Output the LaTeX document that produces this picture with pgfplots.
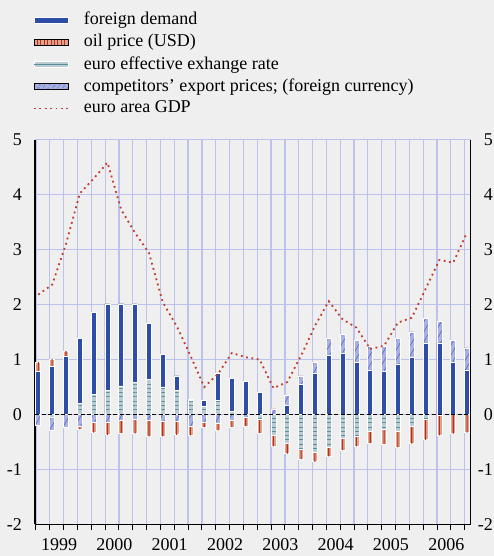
\documentclass[border=0pt]{standalone}
\usepackage{pgfplots}
\pgfplotsset{compat=1.18}
\usepackage{pgfplotstable}
\usepackage{fontspec}
\setmainfont{Liberation Serif}
\usetikzlibrary{patterns.meta}
\definecolor{bg}{HTML}{EFEFEF}
\definecolor{gridc}{HTML}{BCC2EB}
\definecolor{fd}{HTML}{2D4DA8}
\definecolor{oilfill}{HTML}{E2A38D}
\definecolor{oilline}{HTML}{B5301E}
\definecolor{eerfill}{HTML}{B9CCD3}
\definecolor{eerline}{HTML}{5B8F9B}
\definecolor{cepfill}{HTML}{A9B1E3}
\definecolor{cepline}{HTML}{5565C4}
\definecolor{gdp}{HTML}{C23B2C}

% x: quarter index (0 = 1999Q1); t: euro effective exchange rate; b: foreign demand;
% h: competitors' export prices; o: oil price; g: euro area GDP
\pgfplotstableread{
x t b h o g
0 0 0.79 -0.20 0.16 2.18
1 -0.05 0.87 -0.23 0.14 2.36
2 0 1.05 -0.24 0.10 3.10
3 0.20 1.19 -0.22 -0.05 4.02
4 0.37 1.48 -0.15 -0.18 4.29
5 0.44 1.57 -0.15 -0.22 4.58
6 0.52 1.49 -0.10 -0.24 3.72
7 0.58 1.43 -0.08 -0.27 3.30
8 0.64 1.02 -0.10 -0.30 2.94
9 0.50 0.59 -0.13 -0.27 2.04
10 0.44 0.26 -0.12 -0.25 1.61
11 0.25 0.02 -0.21 -0.17 1.07
12 0.15 0.10 -0.15 -0.08 0.50
13 0.25 0.49 -0.17 -0.12 0.74
14 0.06 0.60 -0.10 -0.13 1.12
15 0 0.60 -0.05 -0.16 1.04
16 -0.09 0.40 0 -0.25 1.00
17 -0.38 0 0.10 -0.20 0.48
18 -0.53 0.17 0.17 -0.18 0.59
19 -0.63 0.54 0.16 -0.18 1.07
20 -0.68 0.74 0.21 -0.18 1.61
21 -0.60 1.08 0.31 -0.16 2.06
22 -0.44 1.11 0.34 -0.21 1.73
23 -0.40 0.95 0.40 -0.18 1.58
24 -0.30 0.81 0.42 -0.22 1.19
25 -0.27 0.78 0.45 -0.27 1.25
26 -0.30 0.92 0.47 -0.30 1.67
27 -0.22 1.04 0.46 -0.31 1.76
28 -0.09 1.30 0.45 -0.37 2.28
29 -0.02 1.30 0.39 -0.36 2.81
30 0 0.95 0.40 -0.35 2.76
31 0 0.81 0.40 -0.33 3.31
}\data

\pgfplotsset{
  barbase/.style={ybar, bar width=5pt, bar shift=0pt, draw=white, line width=0.7pt},
  oilbar/.style={barbase, fill=oilfill},
  oilstripe/.style={ybar, bar width=1.1pt, bar shift=0pt, draw=none, fill=oilline},
  cepbar/.style={barbase, fill=cepfill, postaction={pattern={Lines[angle=60,distance=5pt,line width=0.6pt]}, pattern color=cepline}},
  fdbar/.style={barbase, fill=fd},
  eerbar/.style={barbase, fill=eerfill, postaction={pattern={Lines[angle=0,distance=4.3pt,line width=0.9pt]}, pattern color=eerline}},
}

\begin{document}
\begin{tikzpicture}
\path[use as bounding box, fill=bg] (-35pt,-31.5pt) rectangle (459pt,524.5pt);
\begin{axis}[
  at={(0pt,0pt)}, anchor=south west,
  scale only axis, width=435.5pt, height=385pt,
  xmin=-0.24, xmax=31.25, ymin=-2, ymax=5,
  axis x line=bottom, axis y line=box,
  axis line style={-, black, line width=1.2pt},
  xtick={-0.17,0.83,...,30.83},
  xticklabels={},
  xtick align=outside,
  major tick length=6pt,
  xtick style={black, line width=1pt},
  ytick={-2,-1,...,5},
  yticklabels={-2,-1,0,1,2,3,4,5},
  ytick style={draw=none},
  yticklabel style={anchor=east, inner sep=0pt, xshift=-13pt},
  tick label style={font=\fontsize{18}{21.6}\selectfont},
  grid=major,
  major grid style={gridc, line width=1.2pt},
  extra x ticks={1.5,5.5,...,29.5},
  extra x tick labels={1999,2000,2001,2002,2003,2004,2005,2006},
  extra x tick style={grid=none, major tick length=0pt, xticklabel style={anchor=north, inner sep=0pt, yshift=-14pt}},
  legend cell align=left,
  legend style={at={(rel axis cs:0,1)}, anchor=north west, xshift=-2pt, yshift=127.5pt,
    draw=none, fill=none, inner sep=0pt, outer sep=0pt, row sep=5pt,
    font=\fontsize{18}{21.6}\selectfont,
    nodes={inner sep=0pt, text height=13pt, text depth=4pt},
    /tikz/every odd column/.append style={column sep=15pt}},
]
\addlegendimage{legend image code/.code={\filldraw[fill=fd, draw=white, line width=0.6pt] (0pt,-3pt) rectangle (34pt,3pt);}}
\addlegendentry{foreign demand}
\addlegendimage{legend image code/.code={\filldraw[fill=oilfill, draw=white, line width=0.6pt] (0pt,-3pt) rectangle (34pt,3pt); \fill[pattern={Lines[angle=90,distance=3.4pt,line width=0.8pt]}, pattern color=oilline] (0pt,-3pt) rectangle (34pt,3pt);}}
\addlegendentry{oil price (USD)}
\addlegendimage{legend image code/.code={\filldraw[fill=eerfill, draw=white, line width=0.6pt] (0pt,-3pt) rectangle (34pt,3pt); \draw[eerline, line width=1pt] (0pt,0pt) -- (34pt,0pt);}}
\addlegendentry{euro effective exhange rate}
\addlegendimage{legend image code/.code={\filldraw[fill=cepfill, draw=white, line width=0.6pt] (0pt,-3pt) rectangle (34pt,3pt); \fill[pattern={Lines[angle=60,distance=4pt,line width=0.6pt]}, pattern color=cepline] (0pt,-3pt) rectangle (34pt,3pt);}}
\addlegendentry{competitors' export prices; (foreign currency)}
\addlegendimage{legend image code/.code={\draw[gdp, line width=1.8pt, dash pattern=on 1.8pt off 3.6pt] (0pt,0pt) -- (34pt,0pt);}}
\addlegendentry{euro area GDP}

% positive contributions (stacked outward from zero: exchange rate, foreign demand, competitors, oil)
\addplot[oilbar] table[x=x, y expr={max(\thisrow{t},0)+max(\thisrow{b},0)+max(\thisrow{h},0)+max(\thisrow{o},0)}] \data;
\addplot[oilstripe] table[x=x, y expr={max(\thisrow{t},0)+max(\thisrow{b},0)+max(\thisrow{h},0)+max(\thisrow{o},0)}] \data;
\addplot[cepbar] table[x=x, y expr={max(\thisrow{t},0)+max(\thisrow{b},0)+max(\thisrow{h},0)}] \data;
\addplot[fdbar] table[x=x, y expr={max(\thisrow{t},0)+max(\thisrow{b},0)}] \data;
\addplot[eerbar] table[x=x, y expr={max(\thisrow{t},0)}] \data;
% negative contributions
\addplot[oilbar] table[x=x, y expr={min(\thisrow{t},0)+min(\thisrow{b},0)+min(\thisrow{h},0)+min(\thisrow{o},0)}] \data;
\addplot[oilstripe] table[x=x, y expr={min(\thisrow{t},0)+min(\thisrow{b},0)+min(\thisrow{h},0)+min(\thisrow{o},0)}] \data;
\addplot[cepbar] table[x=x, y expr={min(\thisrow{t},0)+min(\thisrow{b},0)+min(\thisrow{h},0)}] \data;
\addplot[fdbar] table[x=x, y expr={min(\thisrow{t},0)+min(\thisrow{b},0)}] \data;
\addplot[eerbar] table[x=x, y expr={min(\thisrow{t},0)}] \data;

\addplot[black, line width=1pt, dash pattern=on 4pt off 2.5pt] coordinates {(-0.24,0) (31.25,0)};
\addplot[gdp, line width=1.8pt, dash pattern=on 1.8pt off 3.6pt] table[x=x, y=g] \data;
\end{axis}
\begin{axis}[
  at={(0pt,0pt)}, anchor=south west,
  scale only axis, width=435.5pt, height=385pt,
  xmin=-0.24, xmax=31.25, ymin=-2, ymax=5,
  axis x line=none, axis y line*=right,
  y axis line style={draw=none},
  ytick={-2,-1,...,5},
  yticklabels={-2,-1,0,1,2,3,4,5},
  ytick style={draw=none},
  yticklabel style={anchor=east, inner sep=0pt, xshift=22.5pt},
  tick label style={font=\fontsize{18}{21.6}\selectfont},
]
\addplot[draw=none] coordinates {(0,0)};
\end{axis}
\end{tikzpicture}
\end{document}
